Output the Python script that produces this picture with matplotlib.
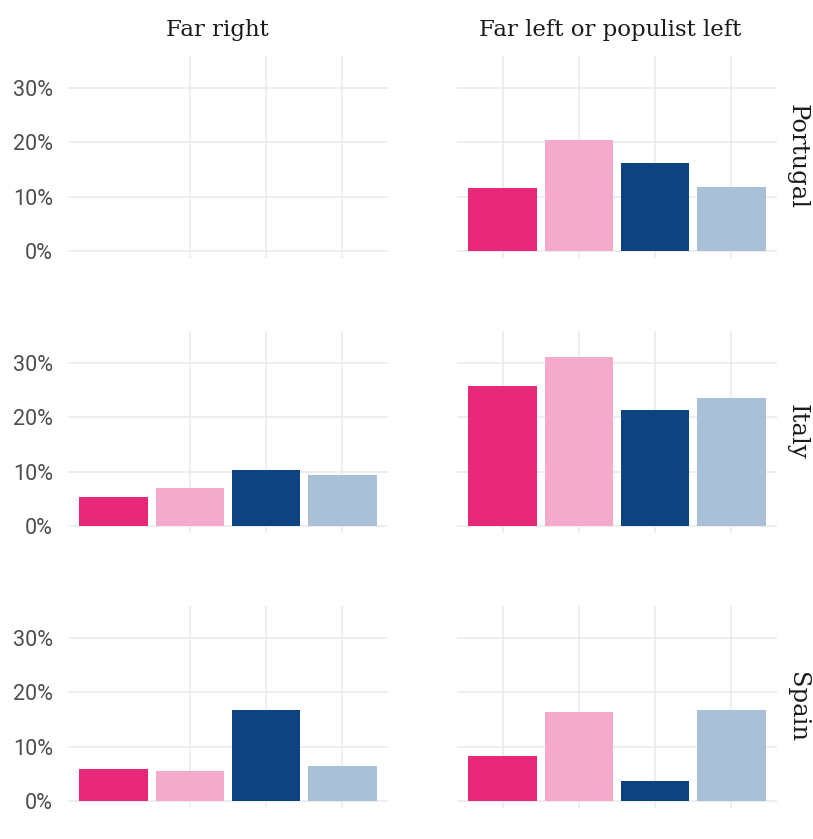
import matplotlib
matplotlib.use("Agg")
import matplotlib.pyplot as plt
from matplotlib.ticker import PercentFormatter

# ---- data (shares, %) ----
countries = ["Portugal", "Italy", "Spain"]
families = ["Far right", "Far left or populist left"]
groups = ["g1", "g2", "g3", "g4"]
COLORS = ["#E8297A", "#F4AACB", "#0D4380", "#A9C0D7"]

portugal_far_right = []                       # no far-right data shown
portugal_far_left = [11.6, 20.4, 16.2, 11.8]
italy_far_right = [5.3, 7.0, 10.3, 9.4]
italy_far_left = [25.8, 31.1, 21.4, 23.6]
spain_far_right = [5.9, 5.5, 16.8, 6.4]
spain_far_left = [8.3, 16.4, 3.7, 16.8]

values = {
    ("Portugal", "Far right"): portugal_far_right,
    ("Portugal", "Far left or populist left"): portugal_far_left,
    ("Italy", "Far right"): italy_far_right,
    ("Italy", "Far left or populist left"): italy_far_left,
    ("Spain", "Far right"): spain_far_right,
    ("Spain", "Far left or populist left"): spain_far_left,
}
yticks = [0, 10, 20, 30]

W, H = 813, 839
fig = plt.figure(figsize=(W / 100, H / 100), dpi=100)
fig.patch.set_facecolor("white")

GRID = "#EBEBEB"
SLAB = ["DejaVu Serif"]
SANS = ["Roboto", "DejaVu Sans"]

col_left = [68, 457]          # px
title_x = [217, 610]          # px, column title centres
panel_w = 320
row_top = [55.5, 330.5, 605.5]
panel_h = 202.5

for r, country in enumerate(countries):
    for c, fam in enumerate(families):
        ax = fig.add_axes([col_left[c] / W, 1 - (row_top[r] + panel_h) / H,
                           panel_w / W, panel_h / H])
        vals = values[(country, fam)]
        xs = range(1, len(groups) + 1)
        ax.set_xlim(0.4, 4.6)
        ax.set_ylim(-1.3, 36)
        ax.set_xticks(list(xs))
        ax.set_yticks(yticks)
        ax.grid(True, color=GRID, linewidth=1.2)
        ax.set_axisbelow(True)
        if c == 0:
            ax.get_xgridlines()[0].set_visible(False)
        if vals:
            ax.bar(list(xs), vals, width=0.9, color=COLORS)
        for s in ax.spines.values():
            s.set_visible(False)
        ax.tick_params(length=0, labelbottom=False)
        if c == 0:
            ax.yaxis.set_major_formatter(PercentFormatter(decimals=0))
            ax.tick_params(axis="y", labelsize=15.5, labelcolor="#4D4D4D", pad=11)
            for lab in ax.get_yticklabels():
                lab.set_family(SANS)
        else:
            ax.tick_params(labelleft=False)
        if r == 0:
            fig.text(title_x[c] / W, 1 - 30 / H, fam,
                     ha="center", va="center", fontsize=16.5, color="#1A1A1A",
                     family=SLAB)
        if c == 1:
            ax.text(1 + 20 / panel_w, 0.5, country, transform=ax.transAxes,
                    ha="center", va="center", rotation=-90, fontsize=17.5,
                    color="#1A1A1A", family=SLAB)

fig.savefig("out.png", dpi=100, facecolor="white")
